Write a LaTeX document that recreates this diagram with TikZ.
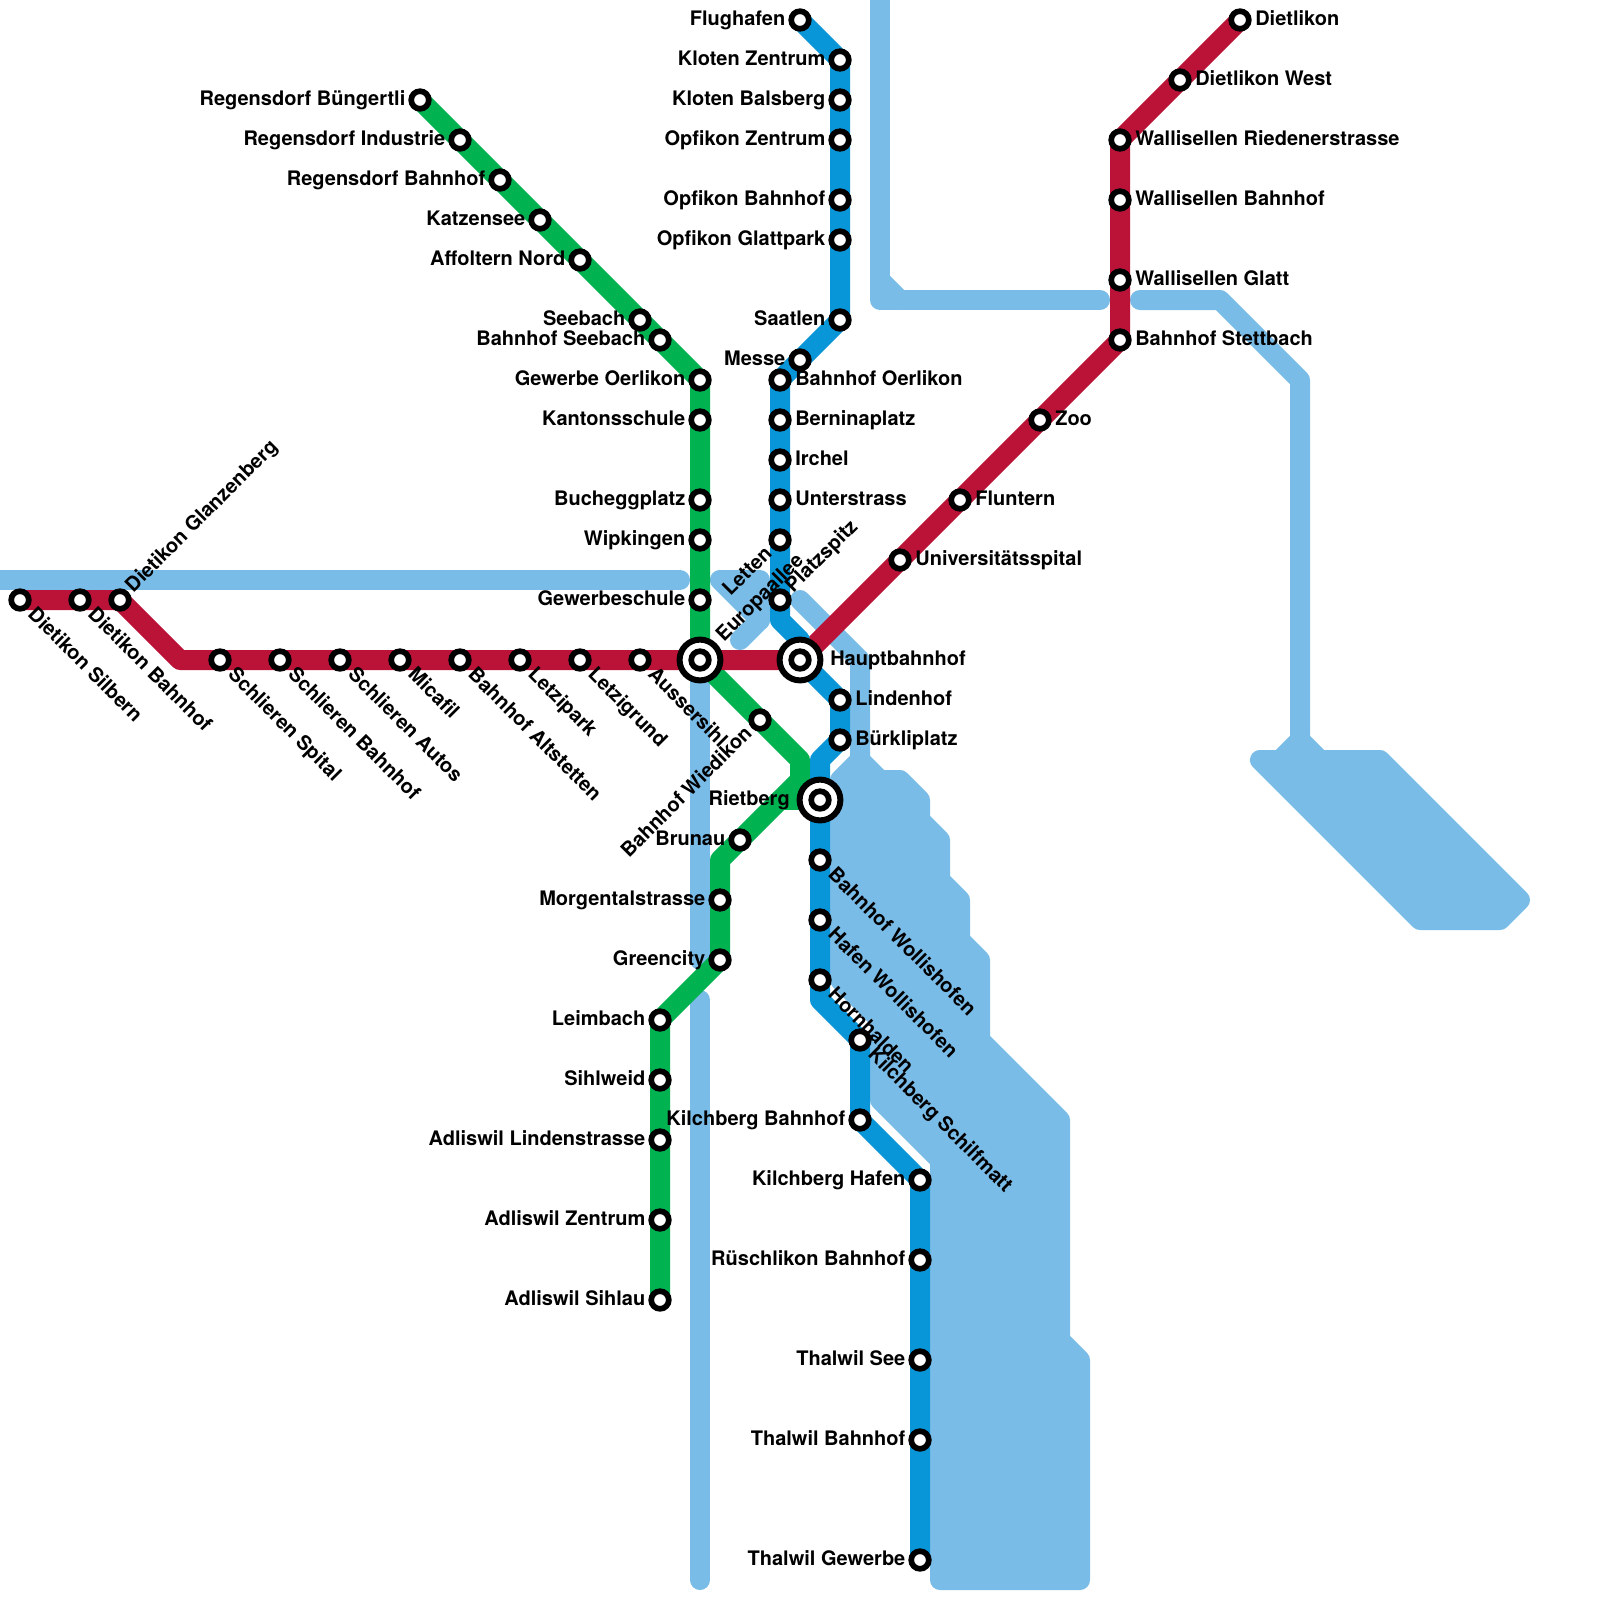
\documentclass[tikz,border=0pt]{standalone}
\usepackage{fontspec}
\setmainfont{TeX Gyre Heros}
\usetikzlibrary{backgrounds}
\definecolor{waterblue}{RGB}{122,188,232}
\definecolor{lineblue}{RGB}{9,150,216}
\definecolor{linered}{RGB}{187,18,56}
\definecolor{linegreen}{RGB}{0,179,80}

\begin{document}
\begin{tikzpicture}[
  x=0.5cm, y=-0.5cm,
  font=\fontsize{14.23}{17}\selectfont\bfseries,
  water/.style={draw=waterblue, line width=0.5cm, line cap=round, line join=round},
  lake/.style={water, fill=waterblue},
  metro/.style={line width=0.5cm, line cap=round, line join=round},
  grn/.style={metro, draw=linegreen},
  rd/.style={metro, draw=linered},
  blu/.style={metro, draw=lineblue},
  stn/.style={circle, draw=black, fill=white, line width=0.1425cm, minimum size=0.44cm, inner sep=0pt, outer sep=0pt},
  hub/.style={circle, draw=black, fill=white, line width=0.15cm, minimum size=1.02cm, inner sep=0pt, outer sep=0pt},
  lr/.style={anchor=base west, inner sep=0pt, xshift=0.375cm, yshift=-0.125cm},
  ll/.style={anchor=base east, inner sep=0pt, xshift=-0.36cm, yshift=-0.125cm},
  lri/.style={anchor=base west, inner sep=0pt, xshift=0.75cm, yshift=-0.125cm},
  lli/.style={anchor=base east, inner sep=0pt, xshift=-0.75cm, yshift=-0.125cm},
  ldr/.style={anchor=base west, inner sep=0pt, xshift=0.17cm, yshift=-0.39cm, rotate=-45},
  lur/.style={anchor=base west, inner sep=0pt, xshift=0.33cm, yshift=0.165cm, rotate=45},
  luri/.style={anchor=base west, inner sep=0pt, xshift=0.6cm, yshift=0.44cm, rotate=45},
  lul/.style={anchor=base east, inner sep=0pt, xshift=-0.17cm, yshift=-0.36cm, rotate=45},
]
\useasboundingbox (0,0) rectangle (80,80);

% blue line
\node[stn] (flughafen) at (40,1) {};
\node[stn] (klotenz) at (42,3) {};
\node[stn] (klotenb) at (42,5) {};
\node[stn] (opfikonz) at (42,7) {};
\node[stn] (opfikonb) at (42,10) {};
\node[stn] (opfikong) at (42,12) {};
\node[stn] (saatlen) at (42,16) {};
\node[stn] (messe) at (40,18) {};
\node[stn] (oerlikon) at (39,19) {};
\node[stn] (bernina) at (39,21) {};
\node[stn] (irchel) at (39,23) {};
\node[stn] (unterstrass) at (39,25) {};
\node[stn] (letten) at (39,27) {};
\node[stn] (platzspitz) at (39,30) {};
\node[hub] (hbring) at (40,33) {};
\node[stn] (hb) at (40,33) {};
\node[stn] (lindenhof) at (42,35) {};
\node[stn] (buerkli) at (42,37) {};
\node[hub] (rietring) at (41,40) {};
\node[stn] (rietberg) at (41,40) {};
\node[stn] (wollishofen) at (41,43) {};
\node[stn] (hafenw) at (41,46) {};
\node[stn] (hornhalden) at (41,49) {};
\node[stn] (schilfmatt) at (43,52) {};
\node[stn] (kilchbergb) at (43,56) {};
\node[stn] (kilchbergh) at (46,59) {};
\node[stn] (rueschlikon) at (46,63) {};
\node[stn] (thalwils) at (46,68) {};
\node[stn] (thalwilb) at (46,72) {};
\node[stn] (thalwilg) at (46,78) {};

% red line
\node[stn] (silbern) at (1,30) {};
\node[stn] (dietikonb) at (4,30) {};
\node[stn] (glanzenberg) at (6,30) {};
\node[stn] (spital) at (11,33) {};
\node[stn] (schlierenb) at (14,33) {};
\node[stn] (autos) at (17,33) {};
\node[stn] (micafil) at (20,33) {};
\node[stn] (altstetten) at (23,33) {};
\node[stn] (letzipark) at (26,33) {};
\node[stn] (letzigrund) at (29,33) {};
\node[stn] (aussersihl) at (32,33) {};
\node[hub] (euring) at (35,33) {};
\node[stn] (europa) at (35,33) {};
\node[stn] (unispital) at (45,28) {};
\node[stn] (fluntern) at (48,25) {};
\node[stn] (zoo) at (52,21) {};
\node[stn] (stettbach) at (56,17) {};
\node[stn] (wglatt) at (56,14) {};
\node[stn] (wbahnhof) at (56,10) {};
\node[stn] (wrieden) at (56,7) {};
\node[stn] (dietlikonw) at (59,4) {};
\node[stn] (dietlikon) at (62,1) {};

% green line
\node[stn] (buengertli) at (21,5) {};
\node[stn] (industrie) at (23,7) {};
\node[stn] (regensdorf) at (25,9) {};
\node[stn] (katzensee) at (27,11) {};
\node[stn] (affoltern) at (29,13) {};
\node[stn] (seebach) at (32,16) {};
\node[stn] (seebachb) at (33,17) {};
\node[stn] (gewerbeo) at (35,19) {};
\node[stn] (kanti) at (35,21) {};
\node[stn] (buchegg) at (35,25) {};
\node[stn] (wipkingen) at (35,27) {};
\node[stn] (gewerbes) at (35,30) {};
\node[stn] (wiedikon) at (38,36) {};
\node[stn] (brunau) at (37,42) {};
\node[stn] (morgental) at (36,45) {};
\node[stn] (greencity) at (36,48) {};
\node[stn] (leimbach) at (33,51) {};
\node[stn] (sihlweid) at (33,54) {};
\node[stn] (adlisl) at (33,57) {};
\node[stn] (adlisz) at (33,61) {};
\node[stn] (adliss) at (33,65) {};

% labels
\node[ll] (flughafenlbl) at (flughafen) {Flughafen};
\node[ll] (klotenzlbl) at (klotenz) {Kloten Zentrum};
\node[ll] (klotenblbl) at (klotenb) {Kloten Balsberg};
\node[ll] (opfikonzlbl) at (opfikonz) {Opfikon Zentrum};
\node[ll] (opfikonblbl) at (opfikonb) {Opfikon Bahnhof};
\node[ll] (opfikonglbl) at (opfikong) {Opfikon Glattpark};
\node[ll] (saatlenlbl) at (saatlen) {Saatlen};
\node[ll] (messelbl) at (messe) {Messe};
\node[lr] (oerlikonlbl) at (oerlikon) {Bahnhof Oerlikon};
\node[lr] (berninalbl) at (bernina) {Berninaplatz};
\node[lr] (irchellbl) at (irchel) {Irchel};
\node[lr] (unterstrasslbl) at (unterstrass) {Unterstrass};
\node[lul] (lettenlbl) at (letten) {Letten};
\node[lur] (platzspitzlbl) at (platzspitz) {Platzspitz};
\node[lri] (hblbl) at (hb) {Hauptbahnhof};
\node[lr] (lindenhoflbl) at (lindenhof) {Lindenhof};
\node[lr] (buerklilbl) at (buerkli) {Bürkliplatz};
\node[lli] (rietberglbl) at (rietberg) {Rietberg};
\node[ldr] (wollishofenlbl) at (wollishofen) {Bahnhof Wollishofen};
\node[ldr] (hafenwlbl) at (hafenw) {Hafen Wollishofen};
\node[ldr] (hornhaldenlbl) at (hornhalden) {Hornhalden};
\node[ldr] (schilfmattlbl) at (schilfmatt) {Kilchberg Schilfmatt};
\node[ll] (kilchbergblbl) at (kilchbergb) {Kilchberg Bahnhof};
\node[ll] (kilchberghlbl) at (kilchbergh) {Kilchberg Hafen};
\node[ll] (rueschlikonlbl) at (rueschlikon) {Rüschlikon Bahnhof};
\node[ll] (thalwilslbl) at (thalwils) {Thalwil See};
\node[ll] (thalwilblbl) at (thalwilb) {Thalwil Bahnhof};
\node[ll] (thalwilglbl) at (thalwilg) {Thalwil Gewerbe};
\node[ldr] (silbernlbl) at (silbern) {Dietikon Silbern};
\node[ldr] (dietikonblbl) at (dietikonb) {Dietikon Bahnhof};
\node[lur] (glanzenberglbl) at (glanzenberg) {Dietikon Glanzenberg};
\node[ldr] (spitallbl) at (spital) {Schlieren Spital};
\node[ldr] (schlierenblbl) at (schlierenb) {Schlieren Bahnhof};
\node[ldr] (autoslbl) at (autos) {Schlieren Autos};
\node[ldr] (micafillbl) at (micafil) {Micafil};
\node[ldr] (altstettenlbl) at (altstetten) {Bahnhof Altstetten};
\node[ldr] (letziparklbl) at (letzipark) {Letzipark};
\node[ldr] (letzigrundlbl) at (letzigrund) {Letzigrund};
\node[ldr] (aussersihllbl) at (aussersihl) {Aussersihl};
\node[luri] (europalbl) at (europa) {Europaallee};
\node[lr] (unispitallbl) at (unispital) {Universitätsspital};
\node[lr] (flunternlbl) at (fluntern) {Fluntern};
\node[lr] (zoolbl) at (zoo) {Zoo};
\node[lr] (stettbachlbl) at (stettbach) {Bahnhof Stettbach};
\node[lr] (wglattlbl) at (wglatt) {Wallisellen Glatt};
\node[lr] (wbahnhoflbl) at (wbahnhof) {Wallisellen Bahnhof};
\node[lr] (wriedenlbl) at (wrieden) {Wallisellen Riedenerstrasse};
\node[lr] (dietlikonwlbl) at (dietlikonw) {Dietlikon West};
\node[lr] (dietlikonlbl) at (dietlikon) {Dietlikon};
\node[ll] (buengertlilbl) at (buengertli) {Regensdorf Büngertli};
\node[ll] (industrielbl) at (industrie) {Regensdorf Industrie};
\node[ll] (regensdorflbl) at (regensdorf) {Regensdorf Bahnhof};
\node[ll] (katzenseelbl) at (katzensee) {Katzensee};
\node[ll] (affolternlbl) at (affoltern) {Affoltern Nord};
\node[ll] (seebachlbl) at (seebach) {Seebach};
\node[ll] (seebachblbl) at (seebachb) {Bahnhof Seebach};
\node[ll] (gewerbeolbl) at (gewerbeo) {Gewerbe Oerlikon};
\node[ll] (kantilbl) at (kanti) {Kantonsschule};
\node[ll] (bucheggeglbl) at (buchegg) {Bucheggplatz};
\node[ll] (wipkingenlbl) at (wipkingen) {Wipkingen};
\node[ll] (gewerbeslbl) at (gewerbes) {Gewerbeschule};
\node[lul] (wiedikonlbl) at (wiedikon) {Bahnhof Wiedikon};
\node[ll] (brunaulbl) at (brunau) {Brunau};
\node[ll] (morgentallbl) at (morgental) {Morgentalstrasse};
\node[ll] (greencitylbl) at (greencity) {Greencity};
\node[ll] (leimbachlbl) at (leimbach) {Leimbach};
\node[ll] (sihlweidlbl) at (sihlweid) {Sihlweid};
\node[ll] (adlisllbl) at (adlisl) {Adliswil Lindenstrasse};
\node[ll] (adliszlbl) at (adlisz) {Adliswil Zentrum};
\node[ll] (adlisslbl) at (adliss) {Adliswil Sihlau};

\coordinate (redbend) at (9,33);
\coordinate (grnbend) at (40,38);
\coordinate (grnfork) at (40,39);
\coordinate (grnback) at (39,40);
\coordinate (grnkink) at (36,43);
\coordinate (blukink) at (39,31);
\coordinate (bluhb) at (40,32);
\coordinate (blubu) at (41,38);
\coordinate (bluho) at (41,50);

\begin{scope}[on background layer]
% rivers and lakes
\draw[water] (-1,29) -- (34,29);
\draw[lake] (36,29) -- (38,29) -- (38,31) -- cycle;
\draw[water] (38,31) -- (37,32);
\draw[water] (40,30) -- (43,33) -- (43,38);
\draw[water] (35,33) -- (35,48);
\draw[water] (35,50) -- (35,79);
\draw[water] (44,-1) -- (44,15) -- (55,15);
\draw[water] (44,14) -- (45,15);
\draw[water] (57,15) -- (61,15) -- (65,19) -- (65,38);
\draw[water] (65,37) -- (64,38);
\draw[water] (65,37) -- (66,38);
\draw[lake] (63,38) -- (69,38) -- (76,45) -- (75,46) -- (71,46) -- cycle;
\draw[lake] (43,38) -- (44,39) -- (45,39) -- (46,40) -- (46,41) -- (47,42) -- (47,44)
  -- (48,45) -- (48,47) -- (49,48) -- (49,52) -- (53,56) -- (53,67) -- (54,68)
  -- (54,79) -- (47,79) -- (47,58) -- (44,55) -- (44,51) -- (42,49) -- (42,39) -- cycle;
% lines
\draw[grn] (buengertli.center) -- (gewerbeo.center) -- (europa.center) -- (wiedikon.center) -- (grnbend) -- (grnfork) -- (brunau.center) -- (grnkink) -- (greencity.center) -- (leimbach.center) -- (adliss.center);
\draw[grn] (grnback) -- (rietberg.center);
\draw[rd] (silbern.center) -- (glanzenberg.center) -- (redbend) -- (hb.center) -- (stettbach.center) -- (wrieden.center) -- (dietlikon.center);
\draw[blu] (flughafen.center) -- (klotenz.center) -- (saatlen.center) -- (oerlikon.center) -- (platzspitz.center) -- (blukink) -- (bluhb) -- (hb.center) -- (lindenhof.center) -- (buerkli.center) -- (blubu) -- (bluho) -- (schilfmatt.center) -- (kilchbergb.center) -- (kilchbergh.center) -- (thalwilg.center);
\end{scope}
\end{tikzpicture}
\end{document}
